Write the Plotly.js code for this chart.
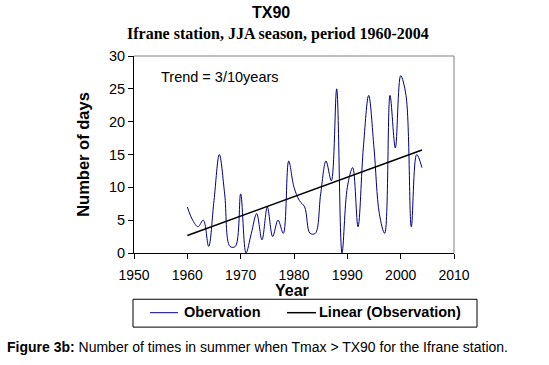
<!DOCTYPE html>
<html>
<head>
<meta charset="utf-8">
<script src="https://cdn.plot.ly/plotly-3.0.1.min.js"></script>
<style>html,body{margin:0;padding:0;background:#fff;}#chart{width:549px;height:365px;}</style>
</head>
<body>
<div id="chart"></div>
<script>
// Data
const years = [1960,1961,1962,1963,1964,1965,1966,1967,1968,1969,1970,1971,1972,1973,1974,1975,1976,1977,1978,1979,1980,1981,1982,1983,1984,1985,1986,1987,1988,1989,1990,1991,1992,1993,1994,1995,1996,1997,1998,1999,2000,2001,2002,2003,2004];
const observation = [7,5,4,5,1,8,15,9,1,1,9,0,3,6,2,7,2.5,5,3,14,10,8,7,3,3,9,14,11,25,0,10,13,4,16,24,16,6,3,24,16,27,24,4,15,13];
const xTicks = [1950,1960,1970,1980,1990,2000,2010];
const yTicks = [0,5,10,15,20,25,30];
const seriesNames = ['Obervation', 'Linear (Observation)'];

// Linear trend (least squares) of the observations
const n = years.length;
const mx = years.reduce((a,b)=>a+b,0)/n;
const my = observation.reduce((a,b)=>a+b,0)/n;
let sxy=0, sxx=0;
for (let i=0;i<n;i++){ sxy += (years[i]-mx)*(observation[i]-my); sxx += (years[i]-mx)*(years[i]-mx); }
const slope = sxy/sxx, intercept = my - slope*mx;
const trendX = [years[0], years[n-1]];
const trendY = trendX.map(x => intercept + slope*x);

const W=549, H=365, L=134, R=454, T=55.5, B=253.5;
const px = x => (x-L)/(R-L);
const py = y => (B-y)/(B-T);
const SANS = 'Liberation Sans, Arial, sans-serif';
const OBS_COLOR = '#000080', TREND_COLOR = '#000000';

const traces = [
  {x: years, y: observation, type:'scatter', mode:'lines', name:seriesNames[0],
   line:{color:OBS_COLOR, width:1, shape:'spline', smoothing:1}},
  {x: trendX, y: trendY, type:'scatter', mode:'lines', name:seriesNames[1],
   line:{color:TREND_COLOR, width:1.5}}
];

// legend box (drawn as shapes/annotations to match the original layout)
const legY = 313.5;
const legendShapes = [
  {type:'rect', xref:'paper', yref:'paper', x0:px(133), x1:px(477), y0:py(300), y1:py(328),
   line:{color:'#000', width:1}, fillcolor:'rgba(0,0,0,0)'},
  {type:'line', xref:'paper', yref:'paper', x0:px(150), x1:px(178), y0:py(legY), y1:py(legY),
   line:{color:OBS_COLOR, width:1}},
  {type:'line', xref:'paper', yref:'paper', x0:px(287), x1:px(316), y0:py(legY), y1:py(legY),
   line:{color:TREND_COLOR, width:1.5}}
];
const legendAnn = [
  {text:'<b>'+seriesNames[0]+'</b>', xref:'paper', yref:'paper', x:px(182), y:py(legY-1), xanchor:'left', yanchor:'middle',
   showarrow:false, font:{family:SANS, size:14.5}},
  {text:'<b>'+seriesNames[1]+'</b>', xref:'paper', yref:'paper', x:px(317), y:py(legY-1), xanchor:'left', yanchor:'middle',
   showarrow:false, font:{family:SANS, size:14.5}}
];

const layout = {
  width:W, height:H,
  margin:{l:L, r:W-R, t:T, b:H-B, pad:0},
  paper_bgcolor:'#ffffff', plot_bgcolor:'#ffffff',
  font:{family:SANS, size:13, color:'#000'},
  showlegend:false,
  xaxis:{range:[1950,2010], tickvals:xTicks, ticktext:xTicks.map(String),
    showgrid:false, zeroline:false, showline:true, linecolor:'#000', linewidth:1,
    ticks:'outside', ticklen:5, tickcolor:'#000', mirror:false,
    ticklabelstandoff:4,
    tickfont:{size:14}},
  yaxis:{range:[0,30], tickvals:yTicks, ticktext:yTicks.map(String),
    showgrid:false, zeroline:false, showline:true, linecolor:'#000', linewidth:1,
    ticks:'outside', ticklen:5, tickcolor:'#000',
    tickfont:{size:14.5},
    title:{text:'<b>Number of days</b>', font:{size:16.5}, standoff:15}},
  shapes:[
    {type:'line', xref:'paper', yref:'paper', x0:0, x1:1, y0:1, y1:1, line:{color:'#808080', width:1}},
    {type:'line', xref:'paper', yref:'paper', x0:1, x1:1, y0:0, y1:1, line:{color:'#808080', width:1}}
  ].concat(legendShapes),
  annotations:[
    {text:'<b>TX90</b>', xref:'paper', yref:'paper', x:px(271), y:py(12), xanchor:'center', yanchor:'middle',
     showarrow:false, font:{family:SANS, size:16}},
    {text:'<b>Ifrane station, JJA season, period 1960-2004</b>', xref:'paper', yref:'paper', x:px(278), y:py(33),
     xanchor:'center', yanchor:'middle', showarrow:false,
     font:{family:'Liberation Serif, Times New Roman, serif', size:16}},
    {text:'<b>Year</b>', xref:'paper', yref:'paper', x:px(292), y:py(291), xanchor:'center', yanchor:'middle',
     showarrow:false, font:{family:SANS, size:16}},
    {text:'Trend = 3/10years', xref:'paper', yref:'paper', x:px(159), y:py(77), xanchor:'left', yanchor:'middle',
     showarrow:false, font:{family:SANS, size:14.5}},
    {text:'<b>Figure 3b:</b> Number of times in summer when Tmax > TX90 for the Ifrane station.', xref:'paper', yref:'paper',
     x:px(5), y:py(348), xanchor:'left', yanchor:'middle', showarrow:false,
     font:{family:SANS, size:14}}
  ].concat(legendAnn)
};

Plotly.newPlot('chart', traces, layout, {displayModeBar:false, staticPlot:true});
</script>
</body>
</html>
